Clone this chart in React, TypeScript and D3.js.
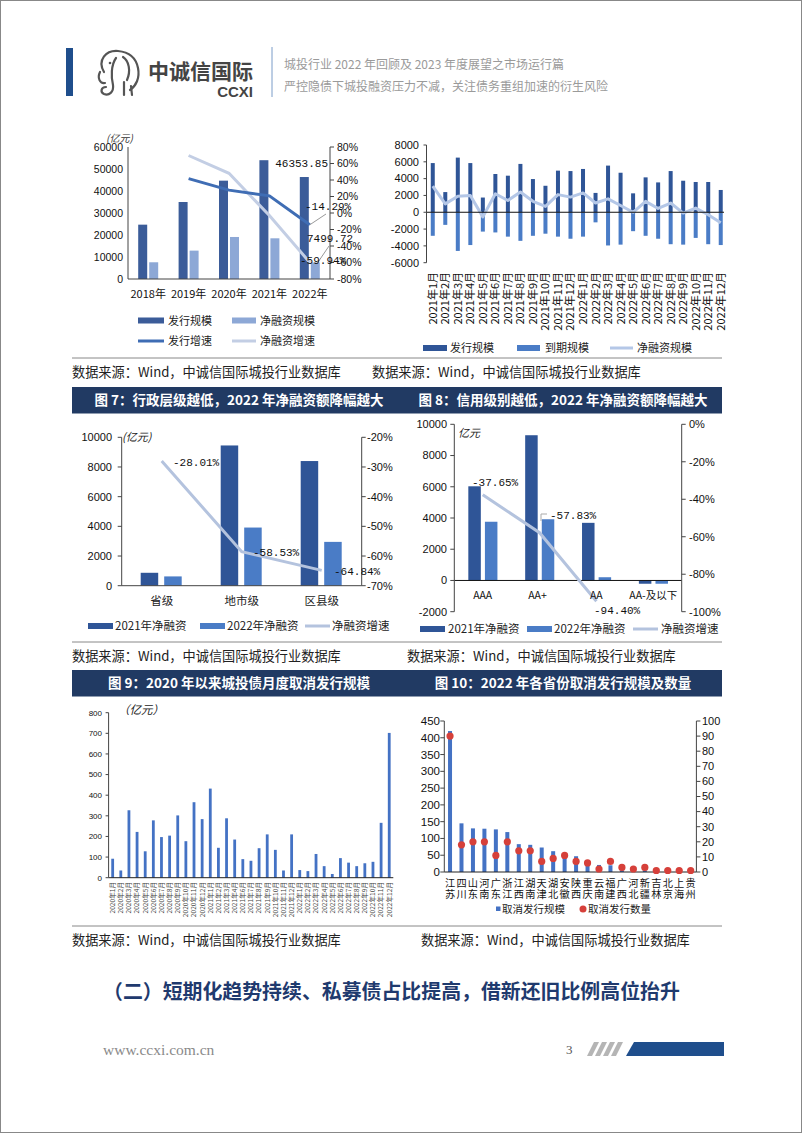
import React from 'react';
import * as d3 from 'd3';

// ---------- Chart 1: 发行规模 / 净融资规模 by year ----------
const c1Years = ['2018年', '2019年', '2020年', '2021年', '2022年'];
const c1Issue = [24700, 35000, 44700, 54000, 46353.85];
const c1Net = [7600, 12900, 19100, 18500, 7499.72];
const c1IssueGrowth = [NaN, 41.7, 27.7, 20.8, -14.29];
const c1NetGrowth = [NaN, 69.7, 48.1, -3.1, -59.94];
const c1LeftTicks = [0, 10000, 20000, 30000, 40000, 50000, 60000];
const c1RightTicks = [-80, -60, -40, -20, 0, 20, 40, 60, 80];

// ---------- Chart 2: monthly 2021-2022 ----------
const c2Months = [
  '2021年1月', '2021年2月', '2021年3月', '2021年4月', '2021年5月', '2021年6月',
  '2021年7月', '2021年8月', '2021年9月', '2021年10月', '2021年11月', '2021年12月',
  '2022年1月', '2022年2月', '2022年3月', '2022年4月', '2022年5月', '2022年6月',
  '2022年7月', '2022年8月', '2022年9月', '2022年10月', '2022年11月', '2022年12月',
];
const c2Issue = [5850, 2400, 6500, 5850, 1750, 4550, 4350, 5750, 3950, 3150, 4950, 4900,
  5150, 2300, 5550, 4700, 2250, 4150, 3550, 4900, 3750, 3600, 3600, 2650];
const c2Maturity = [-2800, -1500, -4600, -3900, -2300, -2400, -2900, -3400, -2800, -2550, -2900, -3150,
  -2900, -1200, -3950, -3850, -2250, -2800, -3150, -3800, -3850, -3050, -3800, -3900];
const c2NetFin = [3100, 1000, 1900, 2000, -550, 2200, 1400, 2400, 1300, 700, 2100, 1800,
  2300, 1100, 1600, 800, 0, 1300, 450, 1100, -100, 500, -300, -1250];
const c2Ticks = [-6000, -4000, -2000, 0, 2000, 4000, 6000, 8000];

// ---------- Chart 3: 行政层级 ----------
const c3Levels = ['省级', '地市级', '区县级'];
const c3Net2021 = [870, 9450, 8400];
const c3Net2022 = [626, 3919, 2953];
const c3Growth = [-28.01, -58.53, -64.84];
const c3LeftTicks = [0, 2000, 4000, 6000, 8000, 10000];
const c3RightTicks = [-70, -60, -50, -40, -30, -20];

// ---------- Chart 4: 信用级别 ----------
const c4Ratings = ['AAA', 'AA+', 'AA', 'AA-及以下'];
const c4Net2021 = [6030, 9300, 3690, -210];
const c4Net2022 = [3760, 3920, 207, -210];
const c4Growth = [-37.65, -57.83, -94.4, NaN];
const c4LeftTicks = [-2000, 0, 2000, 4000, 6000, 8000, 10000];
const c4RightTicks = [-100, -80, -60, -40, -20, 0];

// ---------- Chart 5: monthly cancelled issuance since 2020 ----------
const c5Months = [
  '2020年1月', '2020年2月', '2020年3月', '2020年4月', '2020年5月', '2020年6月',
  '2020年7月', '2020年8月', '2020年9月', '2020年10月', '2020年11月', '2020年12月',
  '2021年1月', '2021年2月', '2021年3月', '2021年4月', '2021年6月',
  '2021年7月', '2021年8月', '2021年9月', '2021年10月', '2021年11月', '2021年12月',
  '2022年1月', '2022年2月', '2022年3月', '2022年4月', '2022年5月', '2022年6月',
  '2022年7月', '2022年8月', '2022年9月', '2022年10月', '2022年11月', '2022年12月',
];
const c5Cancel = [92, 35, 327, 222, 128, 278, 197, 204, 302, 177, 366, 284,
  432, 145, 288, 185, 90, 82, 143, 210, 135, 35, 210,
  37, 32, 115, 56, 18, 95, 73, 56, 70, 77, 266, 702];
const c5Ticks = [0, 100, 200, 300, 400, 500, 600, 700, 800];

// ---------- Chart 6: provinces 2022 ----------
const c6Provinces = ['江苏', '四川', '山东', '河南', '广东', '浙江', '江西', '湖南', '天津', '湖北', '安徽',
  '陕西', '重庆', '云南', '福建', '广西', '河北', '新疆', '吉林', '北京', '上海', '贵州'];
const c6Scale = [420, 145, 130, 129, 127, 119, 83, 81, 73, 62, 55, 47, 33, 21, 20, 5, 4, 5, 1, 1, 1, 1];
const c6Count = [90, 18, 20, 20, 11, 20, 14, 14, 7, 9, 11, 7, 6, 2, 7, 3, 2, 3, 1, 1, 1, 1];
const c6LeftTicks = [0, 50, 100, 150, 200, 250, 300, 350, 400, 450];
const c6RightTicks = [0, 10, 20, 30, 40, 50, 60, 70, 80, 90, 100];

const F_NUM = "'Liberation Sans', Arial, sans-serif";
const F_CJK = "'Noto Sans CJK SC', sans-serif";
const F_MONO = "'Liberation Mono', 'DejaVu Sans Mono', monospace";
const F_SERIF = "'Liberation Serif', 'Times New Roman', serif";

const NAVY = '#213a63';
const AX = '#444';

function LeftAxis({ x, y0, y1, ticks, scale, fmt, fs, tick = 4, lx }: any) {
  return (
    <g>
      <line x1={x} x2={x} y1={y0} y2={y1} stroke={AX} strokeWidth={1} />
      {ticks.map((t: number) => (
        <g key={t}>
          <line x1={x - tick} x2={x} y1={scale(t)} y2={scale(t)} stroke={AX} />
          <text x={lx} y={scale(t)} dy="0.35em" textAnchor="end" fontSize={fs} fontFamily={F_NUM} fill="#111">
            {fmt ? fmt(t) : t}
          </text>
        </g>
      ))}
    </g>
  );
}

function RightAxis({ x, y0, y1, ticks, scale, fmt, fs, tick = 4, lx }: any) {
  return (
    <g>
      <line x1={x} x2={x} y1={y0} y2={y1} stroke={AX} strokeWidth={1} />
      {ticks.map((t: number) => (
        <g key={t}>
          <line x1={x} x2={x + tick} y1={scale(t)} y2={scale(t)} stroke={AX} />
          <text x={lx} y={scale(t)} dy="0.35em" textAnchor="start" fontSize={fs} fontFamily={F_NUM} fill="#111">
            {fmt ? fmt(t) : t}
          </text>
        </g>
      ))}
    </g>
  );
}

function Chart1() {
  const x = d3.scaleBand<string>().domain(c1Years).range([128, 330]);
  const cx = (i: number) => (x(c1Years[i]) as number) + x.bandwidth() / 2;
  const yL = d3.scaleLinear().domain([0, 60000]).range([279, 147]);
  const yR = d3.scaleLinear().domain([-80, 80]).range([279, 147]);
  const ln = d3.line<number>().defined((v) => !isNaN(v)).x((_, i) => cx(i)).y((v) => yR(v));
  const dark = '#3b5c99', light = '#8da8d6';
  return (
    <g>
      <text x={106} y={142} fontSize={10} fontFamily={F_CJK} fill="#333" fontStyle="italic">(亿元)</text>
      {c1Issue.map((v, i) => (
        <rect key={'a' + i} x={cx(i) - 10} width={9} y={yL(v)} height={yL(0) - yL(v)} fill={dark} />
      ))}
      {c1Net.map((v, i) => (
        <rect key={'b' + i} x={cx(i) + 1} width={9} y={yL(v)} height={yL(0) - yL(v)} fill={light} />
      ))}
      <line x1={128} x2={330} y1={279} y2={279} stroke={AX} />
      <LeftAxis x={128} y0={147} y1={279} ticks={c1LeftTicks} scale={yL} fs={10.5} lx={123} tick={0} />
      <RightAxis x={330} y0={147} y1={279} ticks={c1RightTicks} scale={yR} fs={10.5} lx={337} fmt={(t: number) => t + '%'} />
      <path d={ln(c1NetGrowth) || ''} fill="none" stroke="#c3cee4" strokeWidth={3} />
      <path d={ln(c1IssueGrowth) || ''} fill="none" stroke="#3f6db4" strokeWidth={3} />
      {c1Years.map((c, i) => (
        <text key={c} x={cx(i)} y={298} textAnchor="middle" fontSize={11} fontFamily={F_CJK} fill="#111">{c}</text>
      ))}
      {/* data labels */}
      <text x={328} y={167} textAnchor="end" fontSize={11} fontFamily={F_MONO} fill="#111">{c1Issue[4].toFixed(2)}</text>
      <line x1={cx(4)} y1={yR(c1IssueGrowth[4])} x2={326} y2={214} stroke="#999" />
      <text x={305} y={210} fontSize={11} fontFamily={F_MONO} fill="#111">{c1IssueGrowth[4].toFixed(2)}%</text>
      <line x1={cx(4) + 8} y1={yL(c1Net[4])} x2={329} y2={246} stroke="#999" />
      <text x={307} y={242} fontSize={11} fontFamily={F_MONO} fill="#111">{c1Net[4].toFixed(2)}</text>
      <text x={300} y={264} fontSize={11} fontFamily={F_MONO} fill="#111">{c1NetGrowth[4].toFixed(2)}%</text>
      {/* legend */}
      <rect x={138} y={317.5} width={26} height={6} fill={dark} />
      <text x={168} y={325} fontSize={11} fontFamily={F_CJK} fill="#222">发行规模</text>
      <rect x={232} y={317.5} width={24} height={6} fill={light} />
      <text x={260} y={325} fontSize={11} fontFamily={F_CJK} fill="#222">净融资规模</text>
      <line x1={138} x2={164} y1={341} y2={341} stroke="#3f6db4" strokeWidth={3} />
      <text x={168} y={345} fontSize={11} fontFamily={F_CJK} fill="#222">发行增速</text>
      <line x1={232} x2={256} y1={341} y2={341} stroke="#c3cee4" strokeWidth={3} />
      <text x={260} y={345} fontSize={11} fontFamily={F_CJK} fill="#222">净融资增速</text>
    </g>
  );
}

function Chart2() {
  const x = d3.scaleBand<string>().domain(c2Months).range([426.5, 727]);
  const cx = (i: number) => (x(c2Months[i]) as number) + x.bandwidth() / 2;
  const y = d3.scaleLinear().domain([-6000, 8000]).range([262.7, 145]);
  const ln = d3.line<number>().x((_, i) => cx(i)).y((v) => y(v));
  const dark = '#2f5597', mid = '#4a7cc6', light = '#b4c7e7';
  return (
    <g>
      {c2Issue.map((v, i) => (
        <rect key={'i' + i} x={cx(i) - 2} width={4} y={y(v)} height={y(0) - y(v)} fill={dark} />
      ))}
      {c2Maturity.map((v, i) => (
        <rect key={'m' + i} x={cx(i) - 2} width={4} y={y(0)} height={y(v) - y(0)} fill={mid} />
      ))}
      <path d={ln(c2NetFin) || ''} fill="none" stroke={light} strokeWidth={3} strokeLinejoin="round" />
      <line x1={426.5} x2={724} y1={y(0)} y2={y(0)} stroke="#111" />
      <LeftAxis x={426.5} y0={145} y1={262.7} ticks={c2Ticks} scale={y} fs={11} lx={419} tick={3} />
      {c2Months.map((m, i) => (
        <text key={m} transform={`translate(${cx(i)},272) rotate(-90)`} dy="0.36em" textAnchor="end"
          fontSize={11} fontFamily={F_CJK} fill="#111">{m}</text>
      ))}
      <rect x={423} y={345} width={24} height={6} fill={dark} />
      <text x={450} y={352} fontSize={11} fontFamily={F_CJK} fill="#222">发行规模</text>
      <rect x={517} y={345} width={23} height={6} fill={mid} />
      <text x={545} y={352} fontSize={11} fontFamily={F_CJK} fill="#222">到期规模</text>
      <line x1={610} x2={633} y1={348} y2={348} stroke={light} strokeWidth={3} />
      <text x={637} y={352} fontSize={11} fontFamily={F_CJK} fill="#222">净融资规模</text>
    </g>
  );
}

function Chart3() {
  const x = d3.scaleBand<string>().domain(c3Levels).range([121.7, 361.7]);
  const cx = (i: number) => (x(c3Levels[i]) as number) + x.bandwidth() / 2;
  const yL = d3.scaleLinear().domain([0, 10000]).range([585.7, 437.3]);
  const yR = d3.scaleLinear().domain([-70, -20]).range([585.7, 437.3]);
  const ln = d3.line<number>().x((_, i) => cx(i)).y((v) => yR(v));
  const dark = '#2f5597', mid = '#4a7cc6', light = '#b4c3de';
  const lbl = [[173, 466], [253, 556], [334, 575]];
  return (
    <g>
      <text x={122} y={441} fontSize={11} fontFamily={F_CJK} fill="#222" fontStyle="italic">(亿元)</text>
      {c3Net2021.map((v, i) => (
        <rect key={'a' + i} x={cx(i) - 21} width={17.5} y={yL(v)} height={yL(0) - yL(v)} fill={dark} />
      ))}
      {c3Net2022.map((v, i) => (
        <rect key={'b' + i} x={cx(i) + 2.5} width={17.5} y={yL(v)} height={yL(0) - yL(v)} fill={mid} />
      ))}
      <line x1={121.7} x2={361.7} y1={585.7} y2={585.7} stroke={AX} />
      <LeftAxis x={121.7} y0={437.3} y1={585.7} ticks={c3LeftTicks} scale={yL} fs={11} lx={112} />
      <RightAxis x={361.7} y0={437.3} y1={585.7} ticks={c3RightTicks} scale={yR} fs={11} lx={367} fmt={(t: number) => t + '%'} />
      <path d={ln(c3Growth) || ''} fill="none" stroke={light} strokeWidth={3} />
      {c3Growth.map((g, i) => (
        <text key={'l' + i} x={lbl[i][0]} y={lbl[i][1]} fontSize={11} fontFamily={F_MONO} fill="#111">{g.toFixed(2)}%</text>
      ))}
      {c3Levels.map((c, i) => (
        <text key={c} x={cx(i)} y={605} textAnchor="middle" fontSize={11.5} fontFamily={F_CJK} fill="#222">{c}</text>
      ))}
      <rect x={88} y={623} width={25} height={6} fill={dark} />
      <text x={115} y={630} fontSize={11.5} fontFamily={F_CJK} fill="#222">2021年净融资</text>
      <rect x={200} y={623} width={25} height={6} fill={mid} />
      <text x={227} y={630} fontSize={11.5} fontFamily={F_CJK} fill="#222">2022年净融资</text>
      <line x1={305} x2={330} y1={626} y2={626} stroke={light} strokeWidth={3} />
      <text x={332} y={630} fontSize={11.5} fontFamily={F_CJK} fill="#222">净融资增速</text>
    </g>
  );
}

function Chart4() {
  const x = d3.scaleBand<string>().domain(c4Ratings).range([454.3, 681.7]);
  const cx = (i: number) => (x(c4Ratings[i]) as number) + x.bandwidth() / 2;
  const yL = d3.scaleLinear().domain([-2000, 10000]).range([611.7, 424.3]);
  const yR = d3.scaleLinear().domain([-100, 0]).range([611.7, 424.3]);
  const ln = d3.line<number>().defined((v) => !isNaN(v)).x((_, i) => cx(i)).y((v) => yR(v));
  const dark = '#2f5597', mid = '#4a7cc6', light = '#b4c3de';
  const lbl = [[472, 486], [550, 519], [594, 614]];
  const bar = (v: number) => ({ y: Math.min(yL(v), yL(0)), h: Math.abs(yL(v) - yL(0)) });
  return (
    <g>
      <text x={458} y={437} fontSize={11} fontFamily={F_CJK} fill="#222" fontStyle="italic">亿元</text>
      {c4Net2021.map((v, i) => (
        <rect key={'a' + i} x={cx(i) - 14.4} width={12.5} y={bar(v).y} height={bar(v).h} fill={dark} />
      ))}
      {c4Net2022.map((v, i) => (
        <rect key={'b' + i} x={cx(i) + 2.2} width={12.5} y={bar(v).y} height={bar(v).h} fill={mid} />
      ))}
      <line x1={454.3} x2={681.7} y1={yL(0)} y2={yL(0)} stroke="#111" />
      <LeftAxis x={454.3} y0={424.3} y1={611.7} ticks={c4LeftTicks} scale={yL} fs={11} lx={447} />
      <RightAxis x={681.7} y0={424.3} y1={611.7} ticks={c4RightTicks} scale={yR} fs={11} lx={689} fmt={(t: number) => t + '%'} />
      <path d={ln(c4Growth) || ''} fill="none" stroke={light} strokeWidth={3} />
      <path d="M541,521 L541,514 L547,514" fill="none" stroke="#aaa" />
      {c4Growth.slice(0, 3).map((g, i) => (
        <text key={'l' + i} x={lbl[i][0]} y={lbl[i][1]} fontSize={11} fontFamily={F_MONO} fill="#111">{g.toFixed(2)}%</text>
      ))}
      {c4Ratings.map((c, i) => (
        <text key={c} x={cx(i) - (i === 1 ? 2 : 0)} y={599} textAnchor="middle" fontSize={10.5} fontFamily={F_CJK} fill="#111">{c}</text>
      ))}
      <rect x={420} y={626} width={25} height={6} fill={dark} />
      <text x={448} y={633} fontSize={11.5} fontFamily={F_CJK} fill="#222">2021年净融资</text>
      <rect x={527} y={626} width={25} height={6} fill={mid} />
      <text x={554} y={633} fontSize={11.5} fontFamily={F_CJK} fill="#222">2022年净融资</text>
      <line x1={633} x2={658} y1={629} y2={629} stroke={light} strokeWidth={3} />
      <text x={661} y={633} fontSize={11.5} fontFamily={F_CJK} fill="#222">净融资增速</text>
    </g>
  );
}

function Chart5() {
  const x = d3.scaleBand<string>().domain(c5Months).range([108.6, 393.3]);
  const cx = (i: number) => (x(c5Months[i]) as number) + x.bandwidth() / 2;
  const y = d3.scaleLinear().domain([0, 800]).range([877.7, 712.7]);
  return (
    <g>
      <text x={118} y={714} fontSize={11.5} fontFamily={F_CJK} fill="#222" fontStyle="italic">（亿元）</text>
      {c5Cancel.map((v, i) => (
        <rect key={i} x={cx(i) - 1.4} width={2.8} y={y(v)} height={y(0) - y(v)} fill="#4472c4" />
      ))}
      <line x1={108.6} x2={393.3} y1={877.7} y2={877.7} stroke="#222" />
      <LeftAxis x={108.6} y0={712.7} y1={877.7} ticks={c5Ticks} scale={y} fs={8} lx={102} tick={3} />
      {c5Months.map((m, i) => (
        <text key={m} transform={`translate(${cx(i)},882) rotate(-90)`} dy="0.36em" textAnchor="end"
          fontSize={6.6} fontFamily={F_CJK} fill="#444">{m}</text>
      ))}
    </g>
  );
}

function Chart6() {
  const x = d3.scaleBand<string>().domain(c6Provinces).range([444.3, 696.4]);
  const cx = (i: number) => (x(c6Provinces[i]) as number) + x.bandwidth() / 2;
  const yL = d3.scaleLinear().domain([0, 450]).range([872, 721]);
  const yR = d3.scaleLinear().domain([0, 100]).range([872, 721]);
  return (
    <g>
      {c6Scale.map((v, i) => (
        <rect key={'b' + i} x={cx(i) - 2} width={4} y={yL(v)} height={yL(0) - yL(v)} fill="#4472c4" />
      ))}
      <line x1={444.3} x2={696.4} y1={872} y2={872} stroke="#222" />
      <LeftAxis x={444.3} y0={721} y1={872} ticks={c6LeftTicks} scale={yL} fs={11.5} lx={440} tick={4} />
      <RightAxis x={696.4} y0={721} y1={872} ticks={c6RightTicks} scale={yR} fs={11} lx={702} tick={4} />
      {c6Count.map((v, i) => (
        <circle key={'c' + i} cx={cx(i)} cy={yR(v)} r={3.6} fill="#d6403a" />
      ))}
      {c6Provinces.map((p, i) => (
        <g key={p + i}>
          <text x={cx(i)} y={886.5} textAnchor="middle" fontSize={10.2} fontFamily={F_CJK} fill="#111">{p[0]}</text>
          <text x={cx(i)} y={897.5} textAnchor="middle" fontSize={10.2} fontFamily={F_CJK} fill="#111">{p[1]}</text>
        </g>
      ))}
      <rect x={496} y={906.5} width={4.5} height={4.5} fill="#4472c4" />
      <text x={502} y={913} fontSize={10.5} fontFamily={F_CJK} fill="#222">取消发行规模</text>
      <circle cx={583} cy={909} r={3.5} fill="#d6403a" />
      <text x={588} y={913} fontSize={10.5} fontFamily={F_CJK} fill="#222">取消发行数量</text>
    </g>
  );
}

function Source({ x, y }: { x: number; y: number }) {
  return (
    <text x={x} y={y} fontSize={13.2} fontFamily={F_CJK} fill="#222">数据来源：Wind，中诚信国际城投行业数据库</text>
  );
}

function Header() {
  return (
    <g>
      <rect x={66} y={48} width={7} height={48} fill="#1f4e8c" />
      <g fill="none" stroke="#555" strokeWidth={2.2} strokeLinecap="round">
        <path d="M104,72 C97,60 106,50 118,51 C129,52 136,58 138,68 C140,78 136,86 130,90" />
        <path d="M116,58 C111,65 111,77 113,85 C114,92 109,96 104,94 C100,92 101,87 106,87" />
        <path d="M123,57 C129,61 131,71 127,80" />
        <path d="M124,82 L124,95 M131,86 L132,95" />
        <path d="M100,72 C97,78 100,84 105,83" />
      </g>
      <circle cx={110} cy={63} r={1.3} fill="#555" />
      <text x={148} y={79} fontSize={21} fontWeight="bold" fontFamily={F_CJK} fill="#444">中诚信国际</text>
      <text x={253} y={97} textAnchor="end" fontSize={15} fontWeight="bold" fontFamily={F_NUM} fill="#444">CCXI</text>
      <line x1={272} x2={272} y1={47} y2={97} stroke="#7b9cc8" strokeWidth={1} />
      <text x={284} y={68.5} fontSize={12} fontFamily={F_CJK} fill="#9a9a9a">城投行业 2022 年回顾及 2023 年度展望之市场运行篇</text>
      <text x={284} y={90.5} fontSize={12} fontFamily={F_CJK} fill="#9a9a9a">严控隐债下城投融资压力不减，关注债务重组加速的衍生风险</text>
    </g>
  );
}

function Band({ y, left, right }: { y: number; left: string; right: string }) {
  return (
    <g>
      <rect x={72} y={y} width={650} height={26.5} fill={NAVY} />
      <text x={239} y={y + 18} textAnchor="middle" fontSize={13.5} fontWeight="bold" fontFamily={F_CJK} fill="#fff">{left}</text>
      <text x={563} y={y + 18} textAnchor="middle" fontSize={13.5} fontWeight="bold" fontFamily={F_CJK} fill="#fff">{right}</text>
    </g>
  );
}

export default function App() {
  return (
    <svg width={802} height={1133} viewBox="0 0 802 1133" style={{ position: 'absolute', left: 0, top: 0, background: '#fff' }}>
      <rect x={0} y={0} width={802} height={1133} fill="#fff" />
      <rect x={0.5} y={0.5} width={801} height={1132} fill="none" stroke="#888" />
      <Header />
      <Chart1 />
      <Chart2 />
      <line x1={72} x2={722} y1={358} y2={358} stroke="#888" />
      <Source x={72} y={377} />
      <Source x={372} y={377} />
      <Band y={387} left="图 7：行政层级越低，2022 年净融资额降幅越大" right="图 8：信用级别越低，2022 年净融资额降幅越大" />
      <Chart3 />
      <Chart4 />
      <line x1={72} x2={722} y1={642} y2={642} stroke="#888" />
      <Source x={72} y={661} />
      <Source x={407} y={661} />
      <Band y={670} left="图 9：2020 年以来城投债月度取消发行规模" right="图 10：2022 年各省份取消发行规模及数量" />
      <Chart5 />
      <Chart6 />
      <line x1={72} x2={722} y1={926} y2={926} stroke="#888" />
      <Source x={72} y={945} />
      <Source x={421} y={945} />
      <text x={103} y={999} fontSize={19.9} fontWeight="bold" fontFamily={F_CJK} fill="#1f3a6e">（二）短期化趋势持续、私募债占比提高，借新还旧比例高位抬升</text>
      <text x={103} y={1055} fontSize={15.5} fontFamily={F_SERIF} fill="#8a8a8a">www.ccxi.com.cn</text>
      <text x={566} y={1054} fontSize={13} fontFamily={F_SERIF} fill="#555">3</text>
      {[0, 1, 2, 3].map((i) => (
        <polygon key={i} points={`${594 + i * 8},1042 ${599 + i * 8},1042 ${592 + i * 8},1056 ${587 + i * 8},1056`} fill="#b5b5b5" />
      ))}
      <polygon points="634,1042 724,1042 724,1056 626,1056" fill="#1f4e8c" />
    </svg>
  );
}
